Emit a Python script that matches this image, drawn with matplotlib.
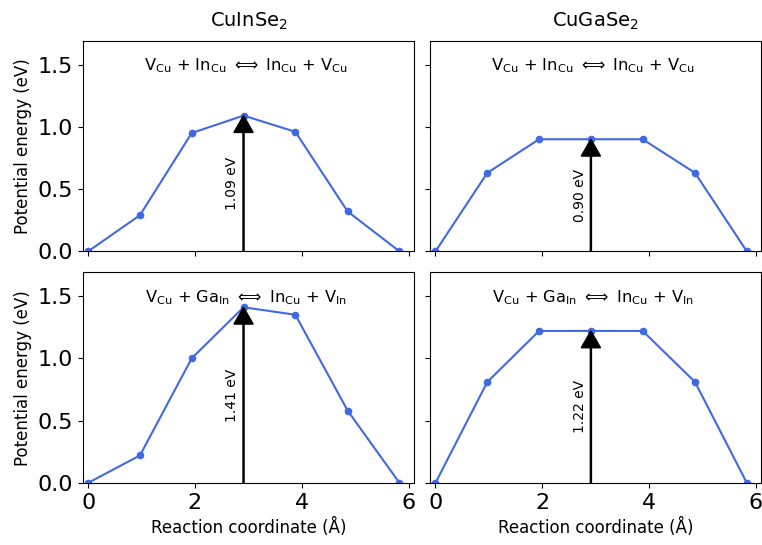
import matplotlib
matplotlib.use("Agg")
import matplotlib.pyplot as plt

# reaction coordinate (Angstrom)
coord = [0.0, 0.97, 1.94, 2.91, 3.88, 4.86, 5.83]

# potential energy (eV)
cis_cu = [0.0, 0.29, 0.95, 1.09, 0.96, 0.32, 0.0]
cgs_cu = [0.0, 0.63, 0.90, 0.90, 0.90, 0.63, 0.0]
cis_ga = [0.0, 0.22, 1.00, 1.41, 1.35, 0.58, 0.0]
cgs_ga = [0.0, 0.81, 1.22, 1.22, 1.22, 0.81, 0.0]

barriers = [1.09, 0.90, 1.41, 1.22]
barrier_labels = ["1.09 eV", "0.90 eV", "1.41 eV", "1.22 eV"]
titles = ["CuInSe$_2$", "CuGaSe$_2$"]
reactions = [
    r"V$_{\rm Cu}$ + In$_{\rm Cu}$ $\Longleftrightarrow$ In$_{\rm Cu}$ + V$_{\rm Cu}$",
    r"V$_{\rm Cu}$ + Ga$_{\rm In}$ $\Longleftrightarrow$ In$_{\rm Cu}$ + V$_{\rm In}$",
]
peak_x = 2.91


def main():
    fig, axes = plt.subplots(2, 2, sharex=True, sharey=True, figsize=(7.62, 5.45), dpi=100)
    fig.subplots_adjust(left=0.109, right=0.999, top=0.925, bottom=0.114,
                        wspace=0.05, hspace=0.1)

    curves = [cis_cu, cgs_cu, cis_ga, cgs_ga]
    for i, ax in enumerate(axes.flat):
        row, col = divmod(i, 2)
        ax.plot(coord, curves[i], "-o", color="#4169E1", lw=1.5, ms=4.5)
        ax.arrow(peak_x, 0, 0, barriers[i], color="black", width=0.02,
                 head_width=0.36, head_length=0.135, length_includes_head=True,
                 zorder=3)
        ax.text(peak_x - 0.08, barriers[i] / 2, barrier_labels[i], rotation=90,
                ha="right", va="center", fontsize=10)
        ax.text(2.95, 1.49, reactions[row], ha="center", va="center", fontsize=11.7)
        ax.tick_params(labelsize=16)
        if row == 0:
            ax.set_title(titles[col], fontsize=14, pad=10)
        if col == 0:
            ax.set_ylabel("Potential energy (eV)", fontsize=12)
        if row == 1:
            ax.set_xlabel("Reaction coordinate (Å)", fontsize=12, labelpad=4)

    ax = axes[0, 0]
    ax.set_xlim(-0.095, 6.1)
    ax.set_ylim(0, 1.69)
    ax.set_xticks([0, 2, 4, 6])
    ax.set_yticks([0.0, 0.5, 1.0, 1.5])

    plt.savefig("out.png")


if __name__ == "__main__":
    main()
